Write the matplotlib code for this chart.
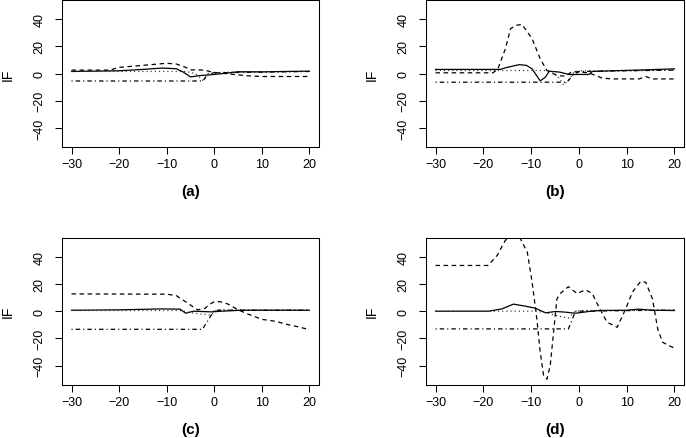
import matplotlib
matplotlib.use('Agg')
import matplotlib.pyplot as plt

plt.rcParams['font.family'] = ['Liberation Sans', 'DejaVu Sans']
plt.rcParams['lines.scale_dashes'] = False

# ---- panel (a)
a_solid_x = [-30, -20, -15, -11, -8, -6.5, -5, -3, -1, 2, 5, 10, 15, 20]
a_solid_y = [1.5, 2, 3, 4, 3.5, 1, -2.5, -1.5, -1, 0, 1.3, 1.2, 1.5, 1.7]
a_dash_x = [-30, -22, -20, -15, -10, -8, -6, -5, -2, -0.5, 3, 7, 10, 20]
a_dash_y = [2.5, 2.5, 4.5, 6, 7.5, 7, 4.5, 2.7, 2.5, 1, -0.3, -1.7, -2.2, -2.2]
a_dot_x = [-30, -6, -4, -3, -2.3, -1.5, 0, 3, 20]
a_dot_y = [1.5, 1.5, 0, -3, -5.5, -1.5, 0.5, 1, 1.5]
a_dd_x = [-30, -2.4, -1.3, 0, 20]
a_dd_y = [-5.5, -5.5, 0, 0.5, 1.5]

# ---- panel (b)
b_solid_x = [-30, -16.5, -15, -12.5, -11, -9.8, -8.1, -7, -6.2, -4, -2.1, 0, 2.1, 2.8, 7, 14, 20]
b_solid_y = [3, 3, 4.5, 6.5, 6, 3.4, -5.4, -2.7, 1.7, 1, -0.7, -0.7, -0.7, 1.5, 2, 2.7, 3.4]
b_dash_x = [-30, -18, -17, -15.4, -14.3, -13, -11.9, -9.8, -8.1, -6.7, -4.6, -2.8, -1.4, 2.1, 3.5, 4.9, 7, 12.6, 14, 15.4, 20]
b_dash_y = [0.5, 0.5, 3, 18, 33, 35.5, 36, 25.6, 10.8, 2.2, -1.5, -2, 1.5, 0.5, -1.5, -3.4, -4, -4, -2.2, -4, -4]
b_dot_x = [-30, -6, -5, -4, -3.2, -2.2, -1, 0, 5, 10, 20]
b_dot_y = [2.2, 2.2, 0, -4, -8.5, -5, 1, 2, 2, 2, 2.5]
b_dd_x = [-30, -2.5, -1.2, 0, 20]
b_dd_y = [-6.4, -6.4, -1, 1.5, 2.5]

# ---- panel (c)
c_solid_x = [-30, -20, -11, -7.2, -6, -4.4, -0.6, 1.5, 5.7, 20]
c_solid_y = [0.7, 1, 1.7, 1.5, -1.5, 0, -0.5, 0, 0.7, 0.7]
c_dash_x = [-30, -10, -8, -6.5, -5, -3.5, -2, -1, 0, 1, 2, 3, 5, 7, 10, 13, 15, 17, 20]
c_dash_y = [12.7, 12.5, 11.5, 8, 4.5, 1, 2, 5, 7, 7, 6.5, 5, 1, -2, -6, -7.5, -9.5, -11, -13.5]
c_dot_x = [-30, -7, -5, -3, -1.5, -0.8, 0.5, 5, 20]
c_dot_y = [0.5, 0.5, -1, -2, -2.5, -3, 1, 1, 1]
c_dd_x = [-30, -2.5, -1, 0, 20]
c_dd_y = [-13.3, -13.3, -5, 0.7, 0.7]

# ---- panel (d)
d_solid_x = [-30, -18.9, -16.1, -13.7, -11.2, -9.1, -7, -4.9, -2.8, -0.7, 2.1, 4.2, 9.8, 12.6, 15.4, 20]
d_solid_y = [0, 0, 1.7, 5.2, 3.7, 2.2, -1.2, -0.2, -0.7, -1.5, -0.2, 0.5, 0.7, 1.5, 0.7, 0.5]
d_dash_x = [-30, -19, -17.1, -15.4, -13.1, -10.8, -9.8, -8.8, -8.1, -7.4, -6.7, -6, -5.3, -4.6, -3.9,
            -2.2, -0.4, 1.4, 2.8, 4.2, 5.9, 8, 9.8, 11.2, 12.9, 14, 15.4, 16.5, 17.5, 19.6, 20]
d_dash_y = [33.6, 33.6, 41, 52, 59, 43.4, 21.5, -5.7, -30, -47, -50, -40, -15.4, 9, 13,
            18, 13, 15.7, 13, 2.9, -8.1, -11.8, 1.7, 14, 21.8, 21.3, 9, -13, -22.8, -26.5, -27]
d_dot_x = [-30, -9, -7, -5, -3, -2.2, -0.7, 1, 20]
d_dot_y = [0, 0, -1, -3, -4.5, -5, 0, 0.5, 0.8]
d_dd_x = [-30, -2.2, -0.7, 20]
d_dd_y = [-13, -13, 0, 0.8]

panels = [
    ('(a)', a_solid_x, a_solid_y, a_dash_x, a_dash_y, a_dot_x, a_dot_y, a_dd_x, a_dd_y),
    ('(b)', b_solid_x, b_solid_y, b_dash_x, b_dash_y, b_dot_x, b_dot_y, b_dd_x, b_dd_y),
    ('(c)', c_solid_x, c_solid_y, c_dash_x, c_dash_y, c_dot_x, c_dot_y, c_dd_x, c_dd_y),
    ('(d)', d_solid_x, d_solid_y, d_dash_x, d_dash_y, d_dot_x, d_dot_y, d_dd_x, d_dd_y),
]

W, H = 686, 439
# axes boxes in pixels: left, top, right, bottom
boxes = [(62, 1, 319, 148), (426, 1, 684, 148),
         (62, 238.7, 319, 385.7), (426, 238.7, 684, 385.7)]

fig = plt.figure(figsize=(W / 100, H / 100), dpi=100)

lw = 0.9
for (lab, sx, sy, dx, dy, ox, oy, ddx, ddy), (l, t, r, b) in zip(panels, boxes):
    ax = fig.add_axes([l / W, (H - b) / H, (r - l) / W, (b - t) / H])
    ax.plot(sx, sy, color='black', lw=lw)
    ax.plot(dx, dy, color='black', lw=lw, linestyle=(0, (3.2, 2.6)))
    ax.plot(ox, oy, color='#333333', lw=lw, linestyle=(0, (0.8, 2.2)))
    ax.plot(ddx, ddy, color='black', lw=lw, linestyle=(0, (0.8, 2.2, 3.2, 2.2)))

    ax.set_xlim(-32, 22)
    ax.set_ylim(-54, 54)
    ax.set_xticks([-30, -20, -10, 0, 10, 20])
    ax.set_yticks([-40, -20, 0, 20, 40])
    ax.tick_params(direction='out', length=5, width=0.75, labelsize=9, color='black')
    ax.tick_params(axis='x', pad=3)
    ax.tick_params(axis='y', pad=7)
    for tl in ax.get_yticklabels():
        tl.set_rotation(90)
        tl.set_va('center')
    for sp in ax.spines.values():
        sp.set_linewidth(0.75)
        sp.set_color('black')

    ax.set_ylabel('IF', fontsize=10, va='center')
    ax.yaxis.set_label_coords(-54 / (r - l), 0.5)
    ax.set_xlabel(lab, fontsize=11, fontweight='bold', va='center')
    ax.xaxis.set_label_coords(0.5, -44 / (b - t))

fig.savefig('out.png', dpi=100)
